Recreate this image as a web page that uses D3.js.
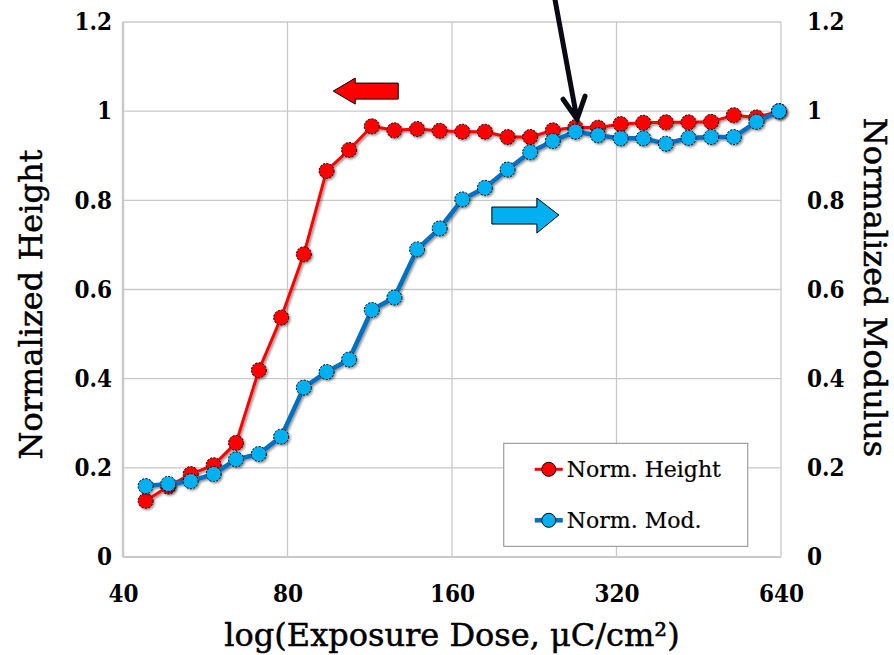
<!DOCTYPE html>
<html>
<head>
<meta charset="utf-8">
<script src="https://cdn.jsdelivr.net/npm/d3@7"></script>
<style>
  body { margin: 0; background: #fff; }
  .tick text { font-family: "DejaVu Serif Condensed", "Liberation Serif", serif; font-weight: bold; font-size: 24px; fill: #000; }
  .axisTitle { font-family: "DejaVu Serif", serif; font-size: 32px; fill: #000; stroke: #000; stroke-width: 0.5px; }
  .legendText { font-family: "DejaVu Serif", serif; font-size: 22px; fill: #000; stroke: #000; stroke-width: 0.2px; }
</style>
</head>
<body>
<div id="chart"></div>
<script>
// Exposure dose (uC/cm2) for each measurement
var doses = [44, 48.4, 53.2, 58.6, 64.4, 70.9, 77.9, 85.7, 94.3, 103.7, 114.1, 125.5, 138.1, 151.9,
  167.1, 183.8, 202.2, 222.4, 244.6, 269.1, 296, 325.6, 358.2, 394, 433.4, 476.8, 524.5, 576.9, 634.6];

// Normalized height (left axis)
var heightValues = [0.126, 0.158, 0.186, 0.206, 0.256, 0.419, 0.537, 0.679, 0.866, 0.913, 0.966, 0.957,
  0.960, 0.956, 0.954, 0.954, 0.942, 0.942, 0.957, 0.964, 0.963, 0.971, 0.974, 0.975, 0.975, 0.976,
  0.991, 0.986, 1.0];

// Normalized modulus (right axis)
var modulusValues = [0.159, 0.164, 0.170, 0.186, 0.219, 0.231, 0.270, 0.380, 0.415, 0.443, 0.554, 0.582,
  0.690, 0.737, 0.802, 0.828, 0.869, 0.908, 0.933, 0.954, 0.946, 0.939, 0.939, 0.927, 0.940, 0.942,
  0.942, 0.976, 1.0];

var xTicks = [40, 80, 160, 320, 640];
var yTicks = [0, 0.2, 0.4, 0.6, 0.8, 1, 1.2];
var seriesNames = ["Norm. Height", "Norm. Mod."];

// SVG size
var svgWidth = 894;
var svgHeight = 655;

var margin = { top: 22, right: 113, bottom: 98, left: 123 };
var width = svgWidth - margin.left - margin.right;
var height = svgHeight - margin.top - margin.bottom;

var svg = d3.select("#chart")
  .append("svg")
  .attr("width", svgWidth)
  .attr("height", svgHeight);

// drop shadow used by the markers
var defs = svg.append("defs");
var shadow = defs.append("filter").attr("id", "shadow")
  .attr("x", "-50%").attr("y", "-50%").attr("width", "200%").attr("height", "200%");
shadow.append("feDropShadow")
  .attr("dx", 1.5).attr("dy", 1.5).attr("stdDeviation", 1.2)
  .attr("flood-color", "#000").attr("flood-opacity", 0.45);

var chartGroup = svg.append("g")
  .attr("transform", `translate(${margin.left}, ${margin.top})`);

// Scales
var xScale = d3.scaleLog().base(2)
  .domain([40, 640])
  .range([0, width]);

var yScale = d3.scaleLinear()
  .domain([0, 1.2])
  .range([height, 0]);

// Gridlines
chartGroup.append("g")
  .selectAll("line.hgrid")
  .data(yTicks)
  .enter()
  .append("line")
  .attr("x1", 0).attr("x2", width)
  .attr("y1", d => yScale(d)).attr("y2", d => yScale(d))
  .attr("stroke", "#c9c9c9")
  .attr("stroke-width", d => d === 0 ? 2 : 1.3);

chartGroup.append("g")
  .selectAll("line.vgrid")
  .data(xTicks)
  .enter()
  .append("line")
  .attr("x1", d => xScale(d)).attr("x2", d => xScale(d))
  .attr("y1", 0).attr("y2", height)
  .attr("stroke", "#c9c9c9")
  .attr("stroke-width", d => d === 40 ? 2.5 : 1.3);

// Axes (labels only)
var bottomAxis = d3.axisBottom(xScale).tickValues(xTicks).tickFormat(d3.format("d")).tickSize(0).tickPadding(28);
var leftAxis = d3.axisLeft(yScale).tickValues(yTicks).tickFormat(d => String(d)).tickSize(0).tickPadding(11);
var rightAxis = d3.axisRight(yScale).tickValues(yTicks).tickFormat(d => String(d)).tickSize(0).tickPadding(26);

chartGroup.append("g")
  .attr("transform", `translate(0, ${height})`)
  .call(bottomAxis)
  .call(g => g.select(".domain").remove());

chartGroup.append("g")
  .call(leftAxis)
  .call(g => g.select(".domain").remove());

chartGroup.append("g")
  .attr("transform", `translate(${width}, 0)`)
  .call(rightAxis)
  .call(g => g.select(".domain").remove());

// Series
var series = [
  { name: seriesNames[0], values: heightValues, line: "#ff0000", fill: "#ff0000", lw: 3 },
  { name: seriesNames[1], values: modulusValues, line: "#0070c0", fill: "#00b0f0", lw: 4.5 }
];

var lineGen = d3.line()
  .x((d, i) => xScale(doses[i]))
  .y(d => yScale(d));

series.forEach(function(s) {
  var g = chartGroup.append("g").attr("filter", "url(#shadow)");
  g.append("path")
    .datum(s.values)
    .attr("d", lineGen)
    .attr("fill", "none")
    .attr("stroke", s.line)
    .attr("stroke-width", s.lw)
    .attr("stroke-linejoin", "round");
  g.selectAll("circle")
    .data(s.values)
    .enter()
    .append("circle")
    .attr("cx", (d, i) => xScale(doses[i]))
    .attr("cy", d => yScale(d))
    .attr("r", 7.5)
    .attr("fill", s.fill)
    .attr("stroke", "#000")
    .attr("stroke-width", 1)
    .attr("stroke-dasharray", "2,1.5");
});

// Legend
var legend = chartGroup.append("g")
  .attr("transform", `translate(${xScale(199)}, ${yScale(0.255)})`);

legend.append("rect")
  .attr("x", 0).attr("y", 0)
  .attr("width", 244).attr("height", 103)
  .attr("fill", "#fff")
  .attr("stroke", "#8c8c8c")
  .attr("stroke-width", 1);

series.forEach(function(s, i) {
  var ly = 26 + i * 51;
  legend.append("line")
    .attr("x1", 31).attr("x2", 59)
    .attr("y1", ly).attr("y2", ly)
    .attr("stroke", s.line)
    .attr("stroke-width", s.lw);
  legend.append("circle")
    .attr("cx", 45).attr("cy", ly)
    .attr("r", 7)
    .attr("fill", s.fill)
    .attr("stroke", "#000")
    .attr("stroke-width", 1);
  legend.append("text")
    .attr("class", "legendText")
    .attr("x", 63).attr("y", ly + 8)
    .text(s.name);
});

// Annotation arrows
// red arrow pointing to the left axis
var ra = [xScale(97), yScale(1.045)];
chartGroup.append("path")
  .attr("d", `M${ra[0]},${ra[1]} l22,-13 v5 h43 v16 h-43 v5 z`)
  .attr("fill", "#ff0000")
  .attr("stroke", "#000")
  .attr("stroke-width", 1);

// blue arrow pointing to the right axis
var ba = [xScale(251), yScale(0.767)];
chartGroup.append("path")
  .attr("d", `M${ba[0]},${ba[1]} l-22,-17 v9 h-45 v17 h45 v9 z`)
  .attr("fill", "#00b0f0")
  .attr("stroke", "#000")
  .attr("stroke-width", 1);

// black arrow from the top edge
var ka = [xScale(271), yScale(0.982)];
chartGroup.append("path")
  .attr("d", `M${ka[0] - 22},${-margin.top} L${ka[0]},${ka[1]} M${ka[0] - 14},${ka[1] - 20} L${ka[0]},${ka[1]} L${ka[0] + 8},${ka[1] - 23}`)
  .attr("fill", "none")
  .attr("stroke", "#0a0a14")
  .attr("stroke-width", 5)
  .attr("stroke-linecap", "round");

// Axis titles
svg.append("text")
  .attr("class", "axisTitle")
  .attr("transform", `translate(42, ${margin.top + height / 2 + 15}) rotate(-90)`)
  .style("text-anchor", "middle")
  .text("Normalized Height");

svg.append("text")
  .attr("class", "axisTitle")
  .attr("transform", `translate(864, ${margin.top + height / 2 - 2}) rotate(90)`)
  .style("text-anchor", "middle")
  .text("Normalized Modulus");

svg.append("text")
  .attr("class", "axisTitle")
  .attr("x", margin.left + width / 2)
  .attr("y", 646)
  .style("text-anchor", "middle")
  .text("log(Exposure Dose, μC/cm²)");
</script>
</body>
</html>
